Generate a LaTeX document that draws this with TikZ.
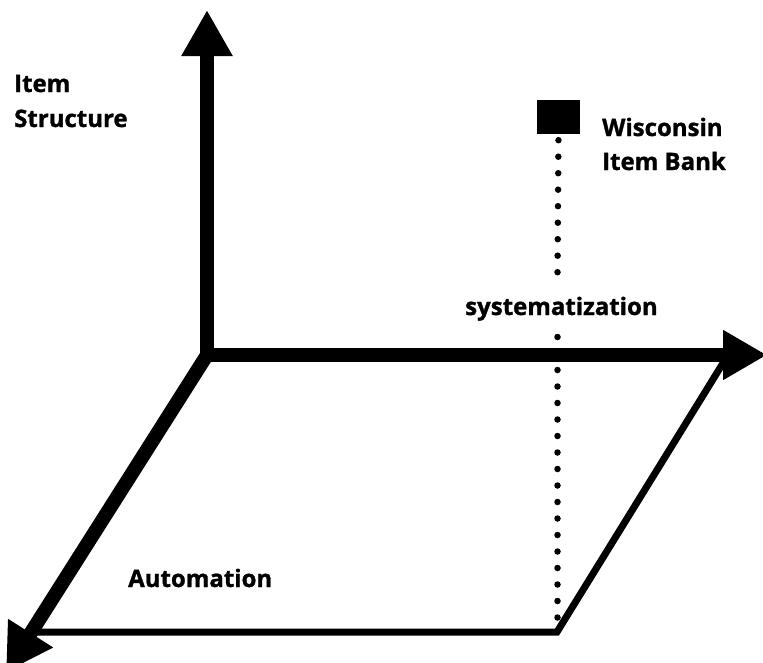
\documentclass[tikz,border=0pt]{standalone}
\usepackage{fontspec}
\setmainfont{Open Sans}[BoldFeatures={FakeBold=1.2}]
\usetikzlibrary{arrows.meta}
\begin{document}
\begin{tikzpicture}[x=1pt,y=-1pt,
  axis/.style={line width=14pt, line join=miter},
  edge/.style={line width=7pt, line join=miter},
  dotline/.style={line width=6.5pt, line cap=round, dash pattern=on 0pt off 16.5pt},
  lbl/.style={inner sep=0pt, anchor=base west, font=\fontsize{24}{35}\selectfont\bfseries},
  bankbox/.style={fill=black, draw=none, minimum width=43pt, minimum height=34pt, inner sep=0pt}
]
\useasboundingbox (0,0) rectangle (763,662);
% key points
\coordinate (O) at (207,355);
\coordinate (ytip) at (207,10);
\coordinate (xtip) at (767,355);
\coordinate (ztip) at (6,672);
\coordinate (TR) at (728,355);
\coordinate (BR) at (557,632);
\coordinate (BL) at (31,632);
% axes
\draw[axis, {Triangle[length=46pt,width=48pt]}-{Triangle[length=44pt,width=47pt]}] (ytip) -- (O) -- (xtip);
\draw[axis, -{Triangle[length=46pt,width=50pt]}] (O) -- (ztip);
% parallelogram edges
\draw[edge] (TR) -- (BR) -- (BL);
% bank marker and dotted line
\node[bankbox] (bank) at (558.5,117) {};
\coordinate (d1end) at (557.5,274);
\draw[dotline, shorten <=6pt] (bank.south) -- (d1end);
\coordinate (d2top) at (557.5,337);
\coordinate (d2end) at (557.5,625);
\draw[dotline] (d2top) -- (d2end);
% labels
\node[lbl] (it1) at (14,92) {Item};
\node[lbl] (it2) at (14,127) {Structure};
\node[lbl] (wi1) at (602,136) {Wisconsin};
\node[lbl] (wi2) at (602,170) {Item Bank};
\node[lbl] (sys) at (465,315) {systematization};
\node[lbl] (aut) at (128,587) {Automation};
\end{tikzpicture}
\end{document}
